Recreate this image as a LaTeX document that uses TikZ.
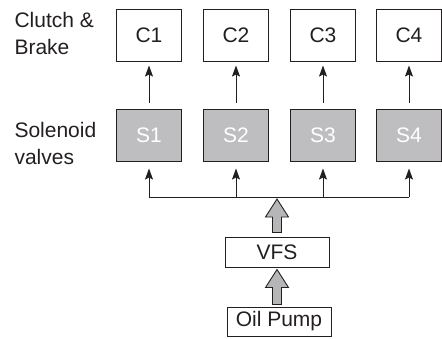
\documentclass[tikz,border=0pt]{standalone}
\usepackage{fontspec}
\setmainfont{Liberation Sans}
\usetikzlibrary{arrows.meta,calc}
\definecolor{sgray}{RGB}{190,190,193}
\definecolor{agray}{RGB}{182,182,184}
\definecolor{ink}{RGB}{35,31,32}
\begin{document}
\begin{tikzpicture}[x=1pt,y=-1pt,
  font=\fontsize{21}{26.5}\selectfont,
  cbox/.style={draw=ink, line width=1pt, minimum width=65pt, minimum height=52pt, inner sep=0pt, text=ink},
  sbox/.style={cbox, fill=sgray, text=white},
  tbox/.style={draw=ink, line width=1pt, inner sep=0pt, minimum width=104pt, text=ink},
  arr/.style={draw=ink, line width=1pt, -{Stealth[length=11pt,width=8pt,inset=2pt]}},
  busline/.style={draw=ink, line width=1pt},
  blkarr/.style={draw=ink, line width=0.9pt, fill=agray, line join=miter},
  lbl/.style={align=left, anchor=base west, text=ink}]
\useasboundingbox (0,0) rectangle (442,338);

\node[lbl] (lc) at (11,54) {Clutch \&\\Brake};
\node[lbl] (ls) at (11,164) {Solenoid\\valves};

\foreach \i/\x in {1/149,2/236,3/323,4/409}{
  \node[cbox] (C\i) at (\x,35) {C\i};
  \node[sbox] (S\i) at (\x,135) {S\i};
  \draw[arr, shorten <=6pt, shorten >=4pt] (S\i) -- (C\i);
}

\node[tbox, minimum height=30pt] (VFS) at (277,252) {VFS};
\node[tbox, minimum height=29pt] (Oil) at (279,321.5) {Oil Pump};

\coordinate (bus) at (277,197);
\draw[busline] (S1 |- bus) -- (S4 |- bus);
\foreach \i in {1,2,3,4}{
  \draw[arr, shorten >=7pt] (S\i |- bus) -- (S\i);
}

% block arrow VFS -> bus
\coordinate (t1) at ($(VFS.north |- bus)+(0,2)$);
\draw[blkarr] ($(VFS.north)+(-4.5,-4)$) -- ($(t1)+(-4.5,18)$) -- ($(t1)+(-11.5,18)$) -- (t1)
  -- ($(t1)+(11.5,18)$) -- ($(t1)+(4.5,18)$) -- ($(VFS.north)+(4.5,-4)$) -- cycle;

% block arrow Oil Pump -> VFS
\coordinate (t2) at ($(VFS.south)+(0,2)$);
\draw[blkarr] ($(t2 |- Oil.north)+(-4.5,-2)$) -- ($(t2)+(-4.5,18)$) -- ($(t2)+(-11.5,18)$) -- (t2)
  -- ($(t2)+(11.5,18)$) -- ($(t2)+(4.5,18)$) -- ($(t2 |- Oil.north)+(4.5,-2)$) -- cycle;
\end{tikzpicture}
\end{document}
